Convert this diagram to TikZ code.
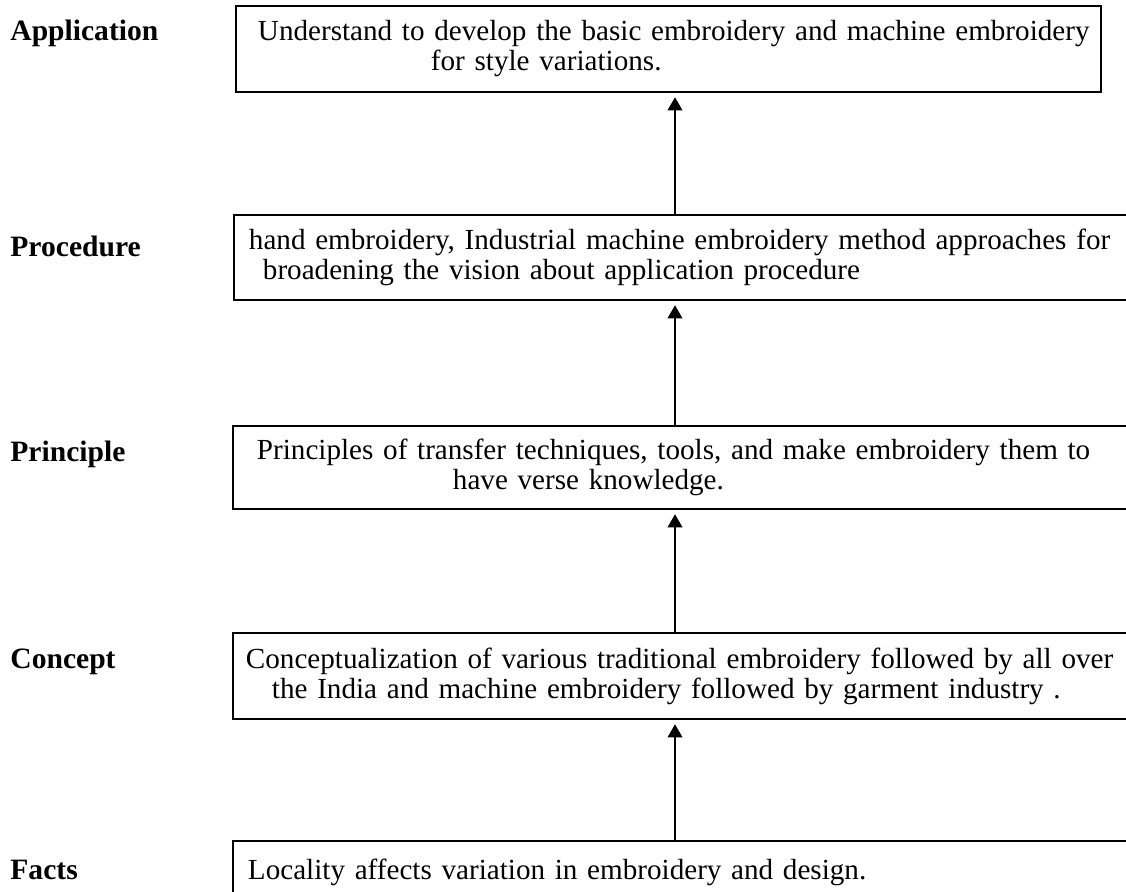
\documentclass[tikz,border=0pt]{standalone}
\usepackage{fontspec}
\setmainfont{Liberation Serif}
\usetikzlibrary{arrows.meta}
\newdimen\pxu \pxu=0.46pt
\def\ind#1{\hspace*{#1\pxu}}

\begin{document}
\begin{tikzpicture}[x=0.46pt, y=-0.46pt,
		levelbox/.style={draw, line width=0.9pt, rectangle, anchor=north west, inner xsep=0pt, inner ysep=0pt, align=left, font=\fontsize{13.4}{13.8}\selectfont},
		levelname/.style={anchor=west, inner sep=0pt, font=\fontsize{13.6}{13.8}\selectfont\bfseries},
		uparrow/.style={line width=0.6pt, -{Triangle[length=6pt, width=6.8pt]}, shorten >=2pt}]
			%%%%% START %%%%%
			\useasboundingbox (0,0) rectangle (1126,892);
			\clip (0,0) rectangle (1126,892);
			
			\node[levelbox, minimum width=865\pxu, minimum height=86\pxu, text width=865\pxu] (app) at (235,5)
				{\ind{22}Understand to develop the basic embroidery and machine embroidery\\ \ind{195}for style variations.};
			\node[levelbox, minimum width=910\pxu, minimum height=85\pxu, text width=910\pxu] (proc) at (233,214)
				{\ind{15}hand embroidery, Industrial machine embroidery method approaches for\\ \ind{29}broadening the vision about application procedure};
			\node[levelbox, minimum width=910\pxu, minimum height=83\pxu, text width=910\pxu] (prin) at (232,425)
				{\ind{24}Principles of transfer techniques, tools, and make embroidery them to\\ \ind{220}have verse knowledge.};
			\node[levelbox, minimum width=910\pxu, minimum height=86\pxu, text width=910\pxu] (conc) at (232,632)
				{\ind{13}Conceptualization of various traditional embroidery followed by all over\\ \ind{39}the India and machine embroidery followed by garment industry .};
			\node[levelbox, minimum width=910\pxu, minimum height=62\pxu, text width=910\pxu] (fact) at (232,840)
				{\ind{15}Locality affects variation in embroidery and design.};
			
			% level names on the left
			\node[levelname] (appname) at (10,33) {Application};
			\node[levelname] (procname) at (10,246) {Procedure};
			\node[levelname] (prinname) at (10,454) {Principle};
			\node[levelname] (concname) at (10,662) {Concept};
			\node[levelname] (factname) at (10,870) {Facts};
			
			% arrows up the middle
			\coordinate (col) at (675,0);
			\draw[uparrow] (fact.north -| col) -- (conc.south -| col);
			\draw[uparrow] (conc.north -| col) -- (prin.south -| col);
			\draw[uparrow] (prin.north -| col) -- (proc.south -| col);
			\draw[uparrow] (proc.north -| col) -- (app.south -| col);
			%%%%% END %%%%%
		\end{tikzpicture}
\end{document}
